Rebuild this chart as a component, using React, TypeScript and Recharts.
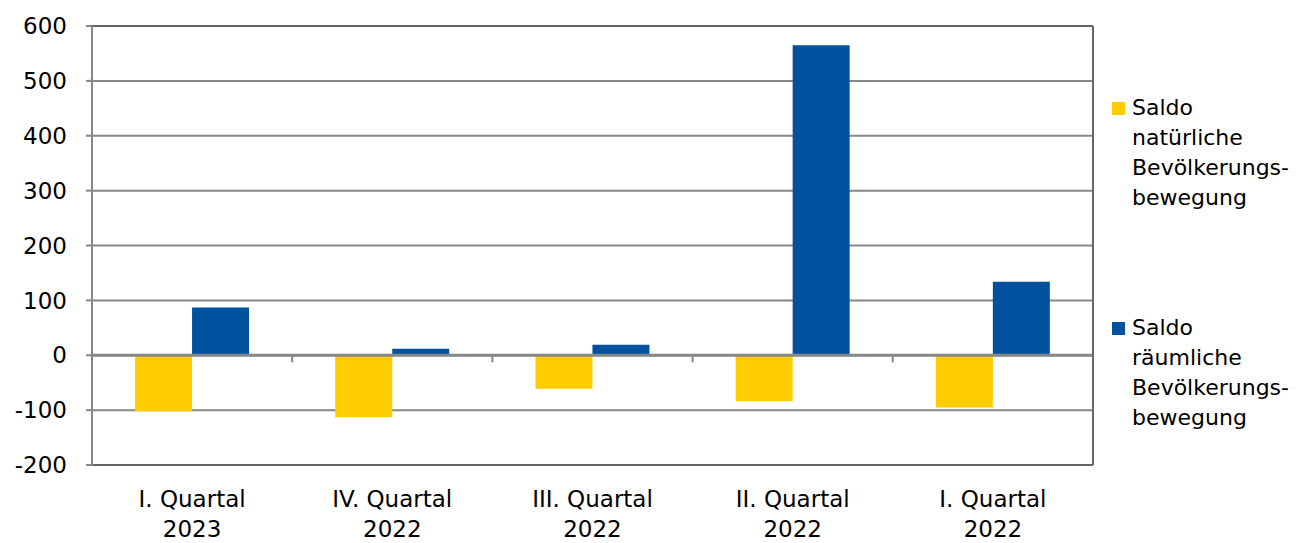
import { Bar, BarChart, CartesianGrid, ReferenceLine, XAxis, YAxis } from 'recharts';

const quarters = [
    ['I. Quartal', '2023'],
    ['IV. Quartal', '2022'],
    ['III. Quartal', '2022'],
    ['II. Quartal', '2022'],
    ['I. Quartal', '2022'],
];
const natuerlich = [-102, -113, -61, -84, -95];
const raeumlich = [87, 12, 19, 565, 134];
const yTicks = [-200, -100, 0, 100, 200, 300, 400, 500, 600];
const slotTicks = [0, 1, 2, 3, 4, 5];
const boundaries = [1, 2, 3, 4];

const seriesNames = [
    ['Saldo', 'natürliche', 'Bevölkerungs-', 'bewegung'],
    ['Saldo', 'räumliche', 'Bevölkerungs-', 'bewegung'],
];
const colors = ['#FFCC00', '#00529F'];

const data = quarters.map((q, i) => ({
    label: q.join('\n'),
    slot: i + 0.5,
    natuerlich: natuerlich[i],
    raeumlich: raeumlich[i],
}));

const font = '"DejaVu Sans", Verdana, sans-serif';
const gridColor = '#878787';

const QuarterTick = ({ x, y, payload }: any) => {
    const lines = String(payload.value).split('\n');
    return (
        <text x={x} y={y} textAnchor="middle" fontFamily={font} fontSize={23} fill="#000">
            {lines.map((l, i) => (
                <tspan key={i} x={x} dy={i === 0 ? 34 : 30}>
                    {l}
                </tspan>
            ))}
        </text>
    );
};

const SideLegend = () => (
    <div
        style={{
            position: 'absolute',
            left: 1112,
            top: 93,
            fontFamily: font,
            fontSize: 22,
            lineHeight: '30px',
            color: '#000',
        }}
    >
        {seriesNames.map((lines, i) => (
            <div key={i} style={{ display: 'flex', marginBottom: i === 0 ? 100 : 0 }}>
                <div
                    style={{
                        width: 13,
                        height: 13,
                        background: colors[i],
                        marginTop: 9,
                        marginRight: 7,
                        flex: 'none',
                    }}
                />
                <div>
                    {lines.map((l, j) => (
                        <div key={j}>{l}</div>
                    ))}
                </div>
            </div>
        ))}
    </div>
);

const App = () => {
    return (
        <div style={{ position: 'absolute', left: 0, top: 0, width: 1298, height: 543, background: '#fff' }}>
            <BarChart
                width={1298}
                height={543}
                data={data}
                margin={{ top: 26, right: 204, bottom: 0, left: 0 }}
                barCategoryGap="21.5%"
                barGap={0}
            >
                <CartesianGrid vertical={false} stroke={gridColor} strokeWidth={2} />
                <XAxis
                    dataKey="label"
                    interval={0}
                    tick={<QuarterTick />}
                    axisLine={{ stroke: '#666', strokeWidth: 2 }}
                    tickLine={false}
                    height={78}
                />
                <XAxis
                    xAxisId="num"
                    dataKey="slot"
                    type="number"
                    domain={[0, 5]}
                    ticks={slotTicks}
                    allowDataOverflow
                    padding={{ left: 0, right: 0 }}
                    hide
                />
                <YAxis
                    domain={[-200, 600]}
                    ticks={yTicks}
                    width={92}
                    tickSize={6}
                    tickMargin={19}
                    tick={{ fontFamily: font, fontSize: 23, fill: '#000' }}
                    axisLine={{ stroke: gridColor, strokeWidth: 2 }}
                    tickLine={{ stroke: gridColor, strokeWidth: 2 }}
                    interval={0}
                />
                <YAxis
                    yAxisId="right"
                    orientation="right"
                    width={1}
                    domain={[-200, 600]}
                    tick={false}
                    axisLine={{ stroke: '#666', strokeWidth: 2 }}
                    tickLine={false}
                />
                <Bar dataKey="natuerlich" fill={colors[0]} isAnimationActive={false} />
                <Bar dataKey="raeumlich" fill={colors[1]} isAnimationActive={false} />
                <ReferenceLine y={0} stroke={gridColor} strokeWidth={3} />
                {boundaries.map((b) => (
                    <ReferenceLine
                        key={b}
                        xAxisId="num"
                        segment={[
                            { x: b, y: 0 },
                            { x: b, y: -13 },
                        ]}
                        stroke={gridColor}
                        strokeWidth={2}
                    />
                ))}
                <ReferenceLine y={600} stroke="#666" strokeWidth={2} />
            </BarChart>
            <SideLegend />
        </div>
    );
};

export default App;
